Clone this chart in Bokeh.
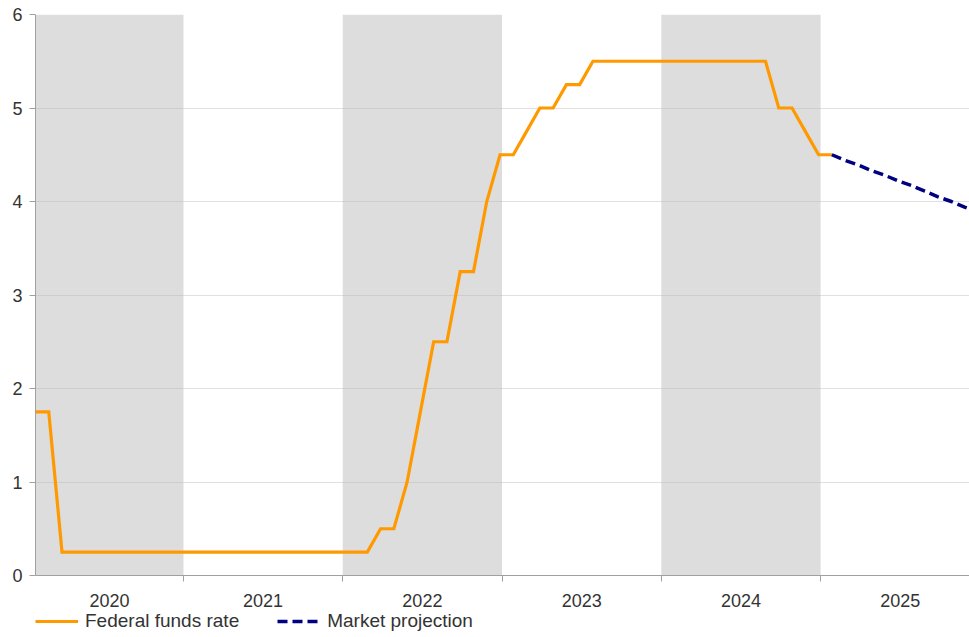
from bokeh.plotting import figure
from bokeh.layouts import column
from bokeh.models import Range1d, FixedTicker, Legend, LegendItem, ColumnDataSource
from bokeh.embed import file_html
from bokeh.resources import INLINE
import pandas as pd

# ---- data ----
months = pd.period_range("2020-01", "2025-01", freq="M")
fed_funds_rate = [
    1.75, 1.75, 0.25, 0.25, 0.25, 0.25, 0.25, 0.25, 0.25, 0.25, 0.25, 0.25,   # 2020
    0.25, 0.25, 0.25, 0.25, 0.25, 0.25, 0.25, 0.25, 0.25, 0.25, 0.25, 0.25,   # 2021
    0.25, 0.25, 0.50, 0.50, 1.00, 1.75, 2.50, 2.50, 3.25, 3.25, 4.00, 4.50,   # 2022
    4.50, 4.75, 5.00, 5.00, 5.25, 5.25, 5.50, 5.50, 5.50, 5.50, 5.50, 5.50,   # 2023
    5.50, 5.50, 5.50, 5.50, 5.50, 5.50, 5.50, 5.50, 5.00, 5.00, 4.75, 4.50,   # 2024
    4.50,                                                                      # 2025
]
proj_months = pd.period_range("2025-01", "2025-12", freq="M")
market_projection = [4.50, 4.44, 4.39, 4.33, 4.28, 4.22, 4.17, 4.11, 4.05, 4.00, 3.94, 3.89]

year_labels = ["2020", "2021", "2022", "2023", "2024", "2025"]
shaded_years = [2020, 2022, 2024]
y_ticks = [0, 1, 2, 3, 4, 5, 6]
series_names = ["Federal funds rate", "Market projection"]

# ---- positions ----
OFFSET = 0.85  # month offset of each monthly point within the axis
def xpos(per):
    return per.year + (per.month - 1 + OFFSET) / 12.0

x_start = 2020.071
x_end = 2025.935

ORANGE = "#ff9900"
NAVY = "#000080"
font = "Liberation Sans"

src_ff = ColumnDataSource(dict(x=[xpos(m) for m in months], y=fed_funds_rate))
src_mp = ColumnDataSource(dict(x=[xpos(m) for m in proj_months], y=market_projection))

p = figure(frame_width=934, frame_height=561, output_backend="svg", toolbar_location=None,
           x_range=Range1d(x_start, x_end), y_range=Range1d(0, 6),
           min_border_left=35, min_border_right=0, min_border_top=14, min_border_bottom=0)
p.outline_line_color = None
p.background_fill_color = "white"
p.border_fill_color = "white"

# shaded year bands
p.quad(left=shaded_years, right=[y + 1 for y in shaded_years], bottom=0, top=6,
       fill_color="#dddddd", line_color=None, level="image")

ff_style = dict(line_color=ORANGE, line_width=3.2, line_join="miter")
mp_style = dict(line_color=NAVY, line_width=3.5, line_dash="10 5")
p.line("x", "y", source=src_ff, **ff_style)
p.line("x", "y", source=src_mp, **mp_style)

# axes
p.yaxis.ticker = FixedTicker(ticks=y_ticks)
p.yaxis.axis_line_color = "#a0a0a0"
p.yaxis.major_tick_line_color = "#a0a0a0"
p.yaxis.major_tick_out = 6
p.yaxis.major_tick_in = 0
p.yaxis.minor_tick_line_color = None
p.yaxis.major_label_standoff = 7
p.yaxis.major_label_text_font = font
p.yaxis.major_label_text_font_size = "18px"
p.yaxis.major_label_text_color = "#333333"

label_pos = [(max(int(l), x_start) + int(l) + 1) / 2 for l in year_labels]
p.xaxis.ticker = FixedTicker(ticks=label_pos, minor_ticks=[2021, 2022, 2023, 2024, 2025])
p.xaxis.major_label_overrides = {lp: l for lp, l in zip(label_pos, year_labels)}
p.xaxis.axis_line_color = "#a0a0a0"
p.xaxis.major_tick_line_color = None
p.xaxis.major_tick_out = 0
p.xaxis.major_tick_in = 0
p.xaxis.minor_tick_line_color = "#a0a0a0"
p.xaxis.minor_tick_out = 6
p.xaxis.minor_tick_in = 0
p.xaxis.major_label_standoff = 12
p.xaxis.major_label_text_font = font
p.xaxis.major_label_text_font_size = "18px"
p.xaxis.major_label_text_color = "#333333"

p.xgrid.grid_line_color = None
p.ygrid.ticker = FixedTicker(ticks=y_ticks[1:])
p.ygrid.grid_line_color = "#bbbbbb"
p.ygrid.grid_line_alpha = 0.45

# ---- legend strip below the chart ----
lf = figure(width=969, height=30, output_backend="svg", toolbar_location=None,
            x_range=Range1d(0, 1), y_range=Range1d(0, 1),
            min_border_left=35, min_border_right=0, min_border_top=1, min_border_bottom=0)
lf.axis.visible = False
lf.grid.visible = False
lf.outline_line_color = None
lf.background_fill_alpha = 0
lf.border_fill_alpha = 0
# same sources; they fall outside this strip's ranges, so only the legend samples show
lr_ff = lf.line("x", "y", source=src_ff, **ff_style)
lr_mp = lf.line("x", "y", source=src_mp, **mp_style)

legend = Legend(items=[LegendItem(label=series_names[0], renderers=[lr_ff]),
                       LegendItem(label=series_names[1], renderers=[lr_mp])],
                orientation="horizontal", location="top_left",
                label_text_font=font, label_text_font_size="19px", label_text_color="#333333",
                glyph_width=43, glyph_height=20, label_standoff=7, spacing=38,
                padding=5, margin=0, border_line_color=None, background_fill_alpha=0)
lf.add_layout(legend)

layout = column(p, lf, spacing=0)
open("out.html", "w").write(file_html(layout, INLINE))
